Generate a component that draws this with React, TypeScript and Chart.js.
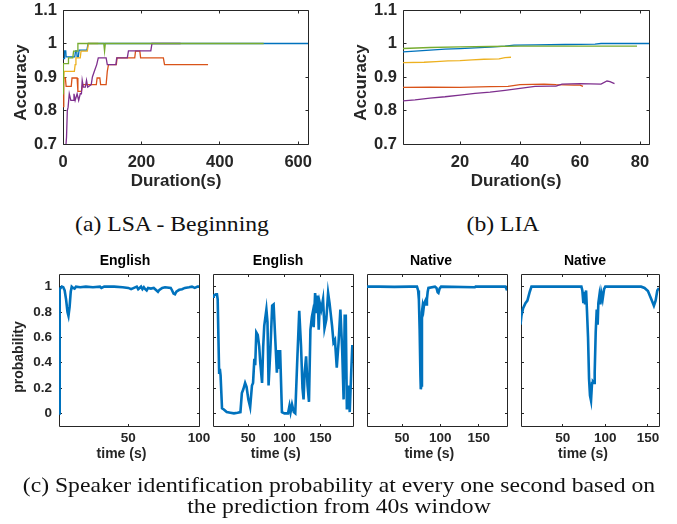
import React, { useEffect, useRef } from 'react';
import { Chart, registerables } from 'chart.js';

Chart.register(...registerables);

type Pt = [number, number];

const BLUE = '#0072BD';
const ORANGE = '#D95319';
const YELLOW = '#EDB120';
const PURPLE = '#7E2F8E';
const GREEN = '#77AC30';

// ---------- (a) LSA - Beginning : accuracy vs duration ----------
const lsaBlue: Pt[] = [[0, 0.955], [3, 0.955], [4, 0.978], [7, 0.978], [8, 0.96], [30, 0.96], [32, 0.978], [35, 0.978], [36, 0.96], [39, 0.96], [41, 0.98], [61, 0.98], [64, 1], [625, 1]];
const lsaOrange: Pt[] = [[0, 0.812], [1.5, 0.812], [2.5, 0.897], [6, 0.897], [8, 0.872], [21, 0.872], [23, 0.897], [36, 0.897], [38, 0.857], [47, 0.857], [50, 0.877], [85, 0.877], [87, 0.897], [94, 0.897], [96, 0.877], [110, 0.877], [113, 0.917], [116, 0.937], [136, 0.937], [138, 0.957], [183, 0.957], [185, 0.977], [196, 0.977], [198, 0.957], [256, 0.957], [259, 0.937], [370, 0.937]];
const lsaYellow: Pt[] = [[1, 0.87], [3, 0.917], [29, 0.917], [31, 0.937], [33, 0.957], [44, 0.957], [46, 0.977], [62, 0.977], [65, 1], [90, 1]];
const lsaPurple: Pt[] = [[7, 0.69], [9, 0.72], [11, 0.8], [13, 0.81], [16, 0.85], [20, 0.83], [26, 0.83], [28, 0.85], [31, 0.83], [36, 0.85], [40, 0.83], [44, 0.85], [47, 0.85], [49, 0.89], [52, 0.87], [57, 0.87], [60, 0.89], [63, 0.87], [72, 0.877], [75, 0.9], [80, 0.917], [86, 0.937], [90, 0.957], [110, 0.957], [113, 0.937], [135, 0.937], [137, 0.957], [164, 0.957], [167, 0.978], [224, 0.978], [227, 1], [300, 1]];
const lsaGreen: Pt[] = [[0.5, 0.85], [1, 0.94], [13, 0.94], [14, 0.957], [25, 0.957], [27, 0.977], [36, 0.977], [38, 1], [104, 1], [106, 0.977], [108, 1], [512, 1]];

// ---------- (b) LIA ----------
const liaBlue: Pt[] = [[1, 0.975], [5, 0.977], [10, 0.98], [15, 0.983], [20, 0.985], [25, 0.987], [30, 0.989], [35, 0.992], [38, 0.995], [45, 0.996], [55, 0.997], [65, 0.998], [67, 1.0], [83, 1.0]];
const liaOrange: Pt[] = [[1, 0.869], [10, 0.87], [20, 0.869], [30, 0.871], [36, 0.872], [40, 0.877], [48, 0.879], [52, 0.877], [58, 0.876], [60, 0.876], [61, 0.872]];
const liaYellow: Pt[] = [[1, 0.943], [8, 0.944], [12, 0.946], [16, 0.948], [20, 0.949], [24, 0.951], [28, 0.953], [33, 0.954], [35, 0.958], [37, 0.959]];
const liaPurple: Pt[] = [[1, 0.829], [5, 0.832], [10, 0.837], [15, 0.841], [20, 0.846], [25, 0.851], [30, 0.855], [35, 0.86], [40, 0.866], [45, 0.872], [50, 0.873], [52, 0.873], [54, 0.879], [60, 0.88], [67, 0.879], [69, 0.888], [70, 0.886], [71.5, 0.88]];
const liaGreen: Pt[] = [[1, 0.985], [10, 0.988], [20, 0.99], [30, 0.991], [40, 0.992], [50, 0.992], [60, 0.992], [70, 0.992], [79, 0.992]];

// ---------- (c) speaker identification probability ----------
const probEnglish1: Pt[] = [[1, 0], [1.3, 0.5], [1.7, 0.98], [3, 1.0], [4, 0.995], [5, 0.97], [6, 0.9], [7, 0.8], [7.7, 0.77], [8.5, 0.84], [9.3, 0.96], [10, 1.0], [11, 0.99], [12, 0.985], [13, 1.0], [16, 0.995], [20, 1.0], [25, 0.995], [30, 1.0], [31, 0.99], [33, 1.0], [40, 1.0], [46, 0.995], [50, 0.99], [52, 0.98], [54, 0.99], [56, 1.0], [57, 0.98], [59, 1.0], [60, 0.98], [61, 0.995], [62, 0.98], [63, 0.97], [64, 0.99], [66, 0.985], [68, 0.99], [70, 0.97], [71, 0.96], [72, 0.975], [74, 0.99], [76, 0.995], [80, 0.99], [81, 0.97], [82, 0.945], [83, 0.94], [84, 0.96], [86, 0.975], [88, 0.98], [90, 0.99], [93, 0.995], [95, 1.0], [97, 0.99], [99, 1.0], [100, 1.0]];
const probEnglish2: Pt[] = [[1, 0.92], [2, 0.93], [5, 0.94], [6.5, 0.94], [7.5, 0.9], [8.5, 0.6], [9.5, 0.32], [10.5, 0.35], [11.5, 0.3], [13.5, 0.04], [16, 0.03], [20, 0.01], [25, 0.005], [30, 0], [35, 0.005], [39, 0.01], [41, 0.16], [43, 0.19], [45.5, 0.24], [47.5, 0.21], [50, 0.11], [52.5, 0.05], [55, 0.22], [56.5, 0.24], [58.3, 0.43], [59.5, 0.38], [61, 0.64], [63, 0.62], [65, 0.53], [66.5, 0.4], [69, 0.24], [70.5, 0.52], [72, 0.69], [75, 0.82], [76.5, 0.72], [78, 0.22], [80.5, 0.5], [83, 0.85], [85, 0.86], [87, 0.62], [89.5, 0.32], [91, 0.5], [92.5, 0.35], [94, 0.5], [96.5, 0.01], [100, 0], [105, 0], [107, 0.06], [108.5, 0.01], [110.5, 0.07], [113, 0.01], [115, 0], [117.5, 0.38], [120.5, 0.81], [123, 0.53], [125, 0.2], [126.5, 0.11], [128, 0.32], [130, 0.45], [132, 0.22], [134, 0.09], [136, 0.66], [138, 0.76], [139, 0.79], [140.5, 0.68], [142.5, 0.95], [144.5, 0.79], [146, 0.93], [147.5, 0.66], [149, 0.87], [151, 0.82], [153.5, 0.9], [155.5, 0.67], [158, 0.74], [160.5, 0.95], [162.5, 0.87], [166, 0.69], [168, 0.56], [170, 0.58], [172.5, 0.36], [175, 0.56], [177.5, 0.82], [180, 0.5], [182, 0.11], [183.5, 0.77], [185, 0.77], [186.5, 0.03], [188.5, 0.22], [190.5, 0.01], [192.5, 0.32], [194, 0.53], [195, 0.53]];
const probNative1: Pt[] = [[4, 1.0], [20, 1.0], [40, 0.998], [60, 1.0], [69.5, 1.0], [71, 0.97], [72, 0.9], [73, 0.66], [74, 0.3], [74.5, 0.19], [75.2, 0.22], [76, 0.8], [77, 0.85], [78, 0.82], [79, 0.87], [80.5, 0.89], [81.5, 0.86], [82.5, 0.9], [83.5, 0.96], [84.5, 0.99], [93, 1.0], [95, 0.99], [96.5, 0.955], [97.5, 0.95], [99, 0.985], [101, 1.0], [145, 0.995], [146, 1.0], [185, 1.0], [186.5, 0.98], [187, 0.97]];
const probNative2: Pt[] = [[0.4, 0.7], [1.5, 0.77], [3.5, 0.83], [6.2, 0.87], [8.5, 0.89], [11.3, 0.96], [13.3, 1.0], [30, 1.0], [50, 1.0], [71.9, 1.0], [73, 0.97], [74.2, 0.87], [75, 0.96], [76.2, 0.86], [77.4, 0.97], [78.5, 0.8], [79.7, 0.6], [80.9, 0.27], [82, 0.14], [83.2, 0.1], [84.4, 0.24], [85.5, 0.25], [86.7, 0.24], [87.5, 0.32], [88.7, 0.64], [89.9, 0.82], [91, 0.7], [91.8, 0.87], [93, 0.93], [94.2, 0.86], [95.3, 0.95], [96.8, 0.9], [98.5, 0.98], [100, 1.0], [120, 1.0], [142, 1.0], [146, 0.99], [150, 0.966], [154, 0.9], [157, 0.85], [159, 0.89], [161, 0.97], [163, 0.99]];

// ---------- ticks ----------
const accTicks = [0.7, 0.8, 0.9, 1, 1.1];
const accLabels = ['0.7', '0.8', '0.9', '1', '1.1'];
const lsaXTicks = [0, 200, 400, 600];
const lsaXLabels = ['0', '200', '400', '600'];
const liaXTicks = [20, 40, 60, 80];
const liaXLabels = ['20', '40', '60', '80'];
const probTicks = [0, 0.2, 0.4, 0.6, 0.8, 1];
const probLabels = ['0', '0.2', '0.4', '0.6', '0.8', '1'];
const time100Ticks = [50, 100];
const time100Labels = ['50', '100'];
const timeTicks = [50, 100, 150];
const timeLabels = ['50', '100', '150'];

interface Series { pts: Pt[]; color: string; width: number; }
interface PlotProps {
  L: number; T: number; R: number; B: number;
  xMin: number; xMax: number; yMin: number; yMax: number;
  xTicks: number[]; xLabels: string[];
  yTicks: number[]; yLabels: string[] | null;
  series: Series[];
  tickFont: number; titleFont: number;
  xTitle: string; xTitleX: number; xTitleBase: number;
  yTitle?: string; yTitleBaseX?: number; yTitleY?: number;
  title?: string; titleX?: number; titleBase?: number;
  xLabelPad: number; yLabelPad: number; tickLen: number;
}

const SANS = '"Liberation Sans", Arial, Helvetica, sans-serif';
const PAD = 30;
const XH = 30;

function MatPlot(p: PlotProps) {
  const ref = useRef<HTMLCanvasElement | null>(null);
  const yW = p.yLabels ? 45 : 0;
  const ox = p.L - yW - PAD;
  const oy = p.T - PAD;
  const w = p.R - p.L + yW + 2 * PAD;
  const h = p.B - p.T + XH + 2 * PAD;

  useEffect(() => {
    if (!ref.current) return;
    const decor = {
      id: 'decor',
      beforeDatasetsDraw(chart: any) {
        const { ctx, chartArea } = chart;
        const xs = chart.scales.x;
        const ys = chart.scales.y;
        const a = (v: number) => Math.floor(v) + 0.5;
        const l = a(chartArea.left), t = a(chartArea.top), r = a(chartArea.right), b = a(chartArea.bottom);
        ctx.save();
        ctx.strokeStyle = '#262626';
        ctx.lineWidth = 1;
        ctx.beginPath();
        ctx.rect(l, t, r - l, b - t);
        for (const v of p.xTicks) {
          const x = a(xs.getPixelForValue(v));
          ctx.moveTo(x, b); ctx.lineTo(x, b - p.tickLen);
          ctx.moveTo(x, t); ctx.lineTo(x, t + p.tickLen);
        }
        for (const v of p.yTicks) {
          const y = a(ys.getPixelForValue(v));
          ctx.moveTo(l, y); ctx.lineTo(l + p.tickLen, y);
          ctx.moveTo(r, y); ctx.lineTo(r - p.tickLen, y);
        }
        ctx.stroke();
        ctx.restore();
      },
      afterDraw(chart: any) {
        const ctx = chart.ctx;
        ctx.save();
        ctx.font = `bold ${p.titleFont}px ${SANS}`;
        ctx.fillStyle = '#262626';
        ctx.textBaseline = 'alphabetic';
        ctx.textAlign = 'center';
        ctx.fillText(p.xTitle, p.xTitleX - ox, p.xTitleBase - oy);
        if (p.yTitle) {
          ctx.save();
          ctx.translate((p.yTitleBaseX as number) - ox, (p.yTitleY as number) - oy);
          ctx.rotate(-Math.PI / 2);
          ctx.fillText(p.yTitle, 0, 0);
          ctx.restore();
        }
        if (p.title) {
          ctx.fillStyle = '#000';
          ctx.fillText(p.title, (p.titleX as number) - ox, (p.titleBase as number) - oy);
        }
        ctx.restore();
      },
    };

    const datasets = p.series.map((s) => ({
      data: s.pts.map(([x, y]) => ({ x, y })),
      borderColor: s.color,
      borderWidth: s.width,
      pointRadius: 0,
      fill: false,
      tension: 0,
    })).reverse();

    const chart = new Chart(ref.current, {
      type: 'line',
      data: { datasets },
      plugins: [decor],
      options: {
        responsive: false,
        maintainAspectRatio: false,
        animation: false,
        devicePixelRatio: 1,
        events: [],
        layout: { padding: PAD },
        plugins: { legend: { display: false }, tooltip: { enabled: false }, title: { display: false } },
        scales: {
          x: {
            type: 'linear',
            position: 'bottom',
            min: p.xMin,
            max: p.xMax,
            grid: { display: false, drawTicks: false },
            border: { display: false },
            afterFit: (s: any) => { s.height = XH; },
            afterBuildTicks: (s: any) => { s.ticks = p.xTicks.map((v) => ({ value: v })); },
            ticks: {
              autoSkip: false,
              maxRotation: 0,
              minRotation: 0,
              padding: p.xLabelPad,
              color: '#262626',
              font: { family: SANS, size: p.tickFont, weight: 'bold', lineHeight: 1 },
              callback: (v: any) => p.xLabels[p.xTicks.indexOf(Number(v))] ?? '',
            },
          },
          y: {
            type: 'linear',
            position: 'left',
            min: p.yMin,
            max: p.yMax,
            grid: { display: false, drawTicks: false },
            border: { display: false },
            afterFit: (s: any) => { s.width = yW; },
            afterBuildTicks: (s: any) => { s.ticks = p.yTicks.map((v) => ({ value: v })); },
            ticks: {
              display: !!p.yLabels,
              autoSkip: false,
              padding: p.yLabelPad,
              color: '#262626',
              font: { family: SANS, size: p.tickFont, weight: 'bold', lineHeight: 1 },
              callback: (v: any) => (p.yLabels ? p.yLabels[p.yTicks.findIndex((t) => Math.abs(t - Number(v)) < 1e-9)] ?? '' : ''),
            },
          },
        },
      } as any,
    });
    return () => chart.destroy();
  }, []);

  return (
    <canvas
      ref={ref}
      width={w}
      height={h}
      style={{ position: 'absolute', left: ox, top: oy, width: w, height: h }}
    />
  );
}

function Caption({ lines, cx, top }: { lines: string[]; cx: number; top: number }) {
  return (
    <div
      style={{
        position: 'absolute',
        left: cx - 340,
        width: 680,
        top,
        textAlign: 'center',
        fontFamily: '"Liberation Serif", "Times New Roman", serif',
        fontSize: 21.5,
        lineHeight: '21px',
        color: '#111',
        whiteSpace: 'nowrap',
        transform: 'scaleX(1.1)',
        transformOrigin: 'center',
      }}
    >
      {lines.map((t, i) => (<div key={i}>{t}</div>))}
    </div>
  );
}

const topCommon = {
  T: 10, B: 144, yMin: 0.7, yMax: 1.1,
  yTicks: accTicks, yLabels: accLabels,
  tickFont: 16.5, titleFont: 17,
  xTitle: 'Duration(s)', xTitleBase: 185.5,
  yTitle: 'Accuracy', yTitleY: 82.5,
  xLabelPad: 10, yLabelPad: 6, tickLen: 3,
};

const botCommon = {
  T: 274, B: 426, yMin: -0.1, yMax: 1.1,
  yTicks: probTicks,
  tickFont: 13.5, titleFont: 14,
  xTitle: 'time (s)', xTitleBase: 458.3,
  titleBase: 265,
  xLabelPad: 5.5, yLabelPad: 7, tickLen: 2.5,
};

const TW = 1.3;
const BW = 2.6;

export default function App() {
  return (
    <div style={{ position: 'fixed', left: 0, top: 0, width: 677, height: 524, background: '#fff', overflow: 'hidden' }}>
      <MatPlot
        {...topCommon}
        L={63} R={308} xMin={0} xMax={625}
        xTicks={lsaXTicks} xLabels={lsaXLabels}
        xTitleX={176} yTitleBaseX={25.5}
        series={[
          { pts: lsaBlue, color: BLUE, width: TW },
          { pts: lsaOrange, color: ORANGE, width: TW },
          { pts: lsaYellow, color: YELLOW, width: TW },
          { pts: lsaPurple, color: PURPLE, width: TW },
          { pts: lsaGreen, color: GREEN, width: TW },
        ]}
      />
      <MatPlot
        {...topCommon}
        L={403} R={649} xMin={1} xMax={83}
        xTicks={liaXTicks} xLabels={liaXLabels}
        xTitleX={516} yTitleBaseX={365.5}
        series={[
          { pts: liaBlue, color: BLUE, width: TW },
          { pts: liaOrange, color: ORANGE, width: TW },
          { pts: liaYellow, color: YELLOW, width: TW },
          { pts: liaPurple, color: PURPLE, width: TW },
          { pts: liaGreen, color: GREEN, width: TW },
        ]}
      />
      <MatPlot
        {...botCommon}
        L={59} R={199} xMin={1} xMax={100}
        xTicks={time100Ticks} xLabels={time100Labels}
        yLabels={probLabels}
        xTitleX={121.5}
        yTitle="probability" yTitleBaseX={23} yTitleY={357}
        title="English" titleX={125}
        series={[{ pts: probEnglish1, color: BLUE, width: BW }]}
      />
      <MatPlot
        {...botCommon}
        L={213} R={353} xMin={1} xMax={195}
        xTicks={timeTicks} xLabels={timeLabels}
        yLabels={null}
        xTitleX={275.7}
        title="English" titleX={278}
        series={[{ pts: probEnglish2, color: BLUE, width: BW }]}
      />
      <MatPlot
        {...botCommon}
        L={367} R={507} xMin={4.3} xMax={187}
        xTicks={timeTicks} xLabels={timeLabels}
        yLabels={null}
        xTitleX={429.3}
        title="Native" titleX={431}
        series={[{ pts: probNative1, color: BLUE, width: BW }]}
      />
      <MatPlot
        {...botCommon}
        L={521} R={659} xMin={1} xMax={163}
        xTicks={timeTicks} xLabels={timeLabels}
        yLabels={null}
        xTitleX={583}
        title="Native" titleX={585}
        series={[{ pts: probNative2, color: BLUE, width: BW }]}
      />
      <Caption lines={['(a) LSA - Beginning']} cx={171.5} top={213.5} />
      <Caption lines={['(b) LIA']} cx={503} top={213.5} />
      <Caption lines={['(c) Speaker identification probability at every one second based on', 'the prediction from 40s window']} cx={338.5} top={474.5} />
    </div>
  );
}
